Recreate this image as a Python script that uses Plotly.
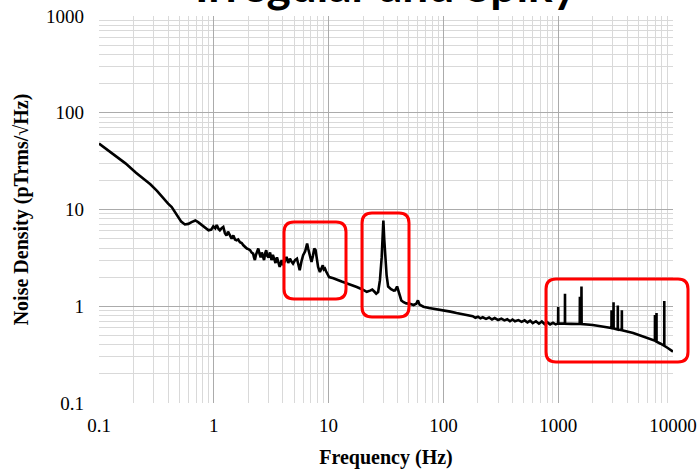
import plotly.graph_objects as go

freq_hz = [0.1, 0.13, 0.17, 0.21, 0.25, 0.28, 0.32, 0.36, 0.4, 0.43, 0.46, 0.49, 0.52, 0.56, 0.6, 0.64, 0.69, 0.73, 0.78, 0.84,
           0.9, 0.95, 0.99, 1.03, 1.06, 1.1, 1.13, 1.17, 1.21, 1.25, 1.29, 1.33, 1.38, 1.43, 1.48, 1.53, 1.58, 1.63, 1.69, 1.75,
           1.81, 1.87, 1.94, 2.0, 2.07, 2.13, 2.2, 2.24, 2.28, 2.33, 2.38, 2.44, 2.5, 2.56, 2.62, 2.68, 2.74, 2.8, 2.86, 2.93,
           3.0, 3.09, 3.18, 3.27, 3.36, 3.45, 3.55, 3.65, 3.75, 3.9, 4.0, 4.15, 4.3, 4.45, 4.6, 4.75, 4.9, 5.1, 5.3, 5.45,
           5.6, 5.8, 6.0, 6.25, 6.5, 6.65, 6.8, 6.95, 7.1, 7.3, 7.5, 7.7, 7.9, 8.1, 8.4, 8.65, 8.9, 9.1, 9.3, 9.5,
           9.7, 10.1, 11, 12, 13, 14.5, 16, 17.6, 19.5, 21.5, 23, 24, 25, 26, 27, 28, 29, 29.6, 30, 30.5,
           31, 32, 33, 35, 37, 38, 39.5, 41, 43, 45, 47.5, 51, 55, 58, 60, 62, 67, 75, 85, 95,
           103, 115, 130, 150, 170, 180, 190, 200, 210, 220, 235, 250, 265, 280, 300, 320, 340, 360, 380, 400,
           420, 450, 480, 510, 540, 570, 600, 640, 680, 720, 760, 800, 850, 900, 950, 990, 998, 1000, 1002, 1100,
           1144, 1146, 1148, 1300, 1540, 1545, 1550, 1590, 1595, 1600, 2000, 2600, 2910, 2915, 2920, 3030, 3035, 3040, 3300, 3305,
           3310, 3580, 3585, 3590, 4500, 5200, 6000, 6960, 6965, 6970, 7180, 7185, 7190, 7800, 8390, 8395, 8400, 9000, 10000]

noise_density = [48, 38, 30, 24, 20.5, 18.2, 15.6, 13.2, 11.5, 10.6, 9.4, 8.2, 7.5, 7.0, 7.1, 7.4, 7.7, 7.4, 7.0, 6.5,
                 6.1, 6.2, 6.7, 6.4, 6.9, 6.3, 6.1, 6.4, 6.6, 5.7, 5.4, 5.9, 5.3, 5.0, 5.4, 4.9, 4.8, 4.9, 4.6, 4.5,
                 4.27, 4.1, 3.95, 3.9, 3.8, 3.6, 3.5, 3.2, 3.0, 3.4, 3.7, 3.95, 3.5, 3.2, 3.6, 3.3, 3.0, 3.5, 3.8, 3.3,
                 3.2, 3.6, 3.0, 3.4, 3.1, 2.8, 3.2, 2.9, 2.55, 3.0, 2.65, 2.9, 3.23, 2.8, 3.1, 2.9, 2.76, 3.0, 3.1, 2.7,
                 2.36, 2.9, 3.37, 3.7, 4.45, 3.9, 3.5, 3.1, 2.87, 3.3, 3.95, 3.8, 3.1, 2.55, 2.26, 2.5, 2.65, 2.4, 2.45, 2.3,
                 2.17, 2.0, 1.95, 1.86, 1.8, 1.72, 1.66, 1.58, 1.5, 1.41, 1.45, 1.49, 1.42, 1.35, 1.4, 1.86, 3.2, 6.0, 7.7, 5.0,
                 3.5, 2.1, 1.6, 1.5, 1.45, 1.46, 1.6, 1.38, 1.15, 1.1, 1.07, 1.06, 1.03, 1.06, 1.15, 1.04, 0.99, 0.96, 0.94, 0.92,
                 0.91, 0.88, 0.85, 0.82, 0.8, 0.79, 0.76, 0.78, 0.75, 0.77, 0.74, 0.765, 0.73, 0.755, 0.72, 0.745, 0.715, 0.735, 0.70, 0.73,
                 0.70, 0.72, 0.69, 0.715, 0.68, 0.71, 0.67, 0.70, 0.66, 0.695, 0.655, 0.685, 0.65, 0.675, 0.65, 0.665, 0.665, 0.98, 0.665, 0.662,
                 0.66, 1.35, 0.66, 0.658, 0.655, 1.25, 0.655, 0.655, 1.6, 0.655, 0.64, 0.61, 0.595, 0.91, 0.595, 0.59, 1.1, 0.59, 0.575, 1.02,
                 0.575, 0.565, 0.91, 0.565, 0.53, 0.50, 0.47, 0.44, 0.81, 0.44, 0.43, 0.85, 0.43, 0.41, 0.39, 1.13, 0.39, 0.37, 0.34]

x_tick_vals = [0.1, 1, 10, 100, 1000, 10000]
x_tick_text = ["0.1", "1", "10", "100", "1000", "10000"]
y_tick_vals = [0.1, 1, 10, 100, 1000]
y_tick_text = ["0.1", "1", "10", "100", "1000"]

# highlight boxes in pixel coordinates of the 700x470 canvas (left, top, right, bottom)
boxes_px = [(284, 222, 346, 299), (362, 213, 409, 317), (546, 279, 688, 362)]

W, H = 700, 470
L, R, T, B = 99, 27, 16, 67
PW, PH = W - L - R, H - T - B


def rounded_path(x0, y0, x1, y1, r=10):
    def px(x):
        return (x - L) / PW

    def py(y):
        return (H - B - y) / PH

    pts = [
        f"M {px(x0 + r)} {py(y0)}",
        f"L {px(x1 - r)} {py(y0)}",
        f"Q {px(x1)} {py(y0)} {px(x1)} {py(y0 + r)}",
        f"L {px(x1)} {py(y1 - r)}",
        f"Q {px(x1)} {py(y1)} {px(x1 - r)} {py(y1)}",
        f"L {px(x0 + r)} {py(y1)}",
        f"Q {px(x0)} {py(y1)} {px(x0)} {py(y1 - r)}",
        f"L {px(x0)} {py(y0 + r)}",
        f"Q {px(x0)} {py(y0)} {px(x0 + r)} {py(y0)}",
        "Z",
    ]
    return " ".join(pts)


fig = go.Figure()
fig.add_trace(go.Scatter(x=freq_hz, y=noise_density, mode="lines",
                         line=dict(color="black", width=2.6), showlegend=False, hoverinfo="skip"))

for (x0, y0, x1, y1) in boxes_px:
    fig.add_shape(type="path", path=rounded_path(x0, y0, x1, y1), xref="paper", yref="paper",
                  line=dict(color="#ff0000", width=3), fillcolor="rgba(0,0,0,0)", layer="above")

axis_font = dict(family="Liberation Serif, Times New Roman, serif", size=19, color="black")
title_font = dict(family="Liberation Serif, Times New Roman, serif", size=20, color="black")

fig.update_xaxes(type="log", range=[-1, 4], tickvals=x_tick_vals, ticktext=x_tick_text,
                 showgrid=True, gridcolor="#ababab", gridwidth=1,
                 minor=dict(showgrid=True, gridcolor="#d9d9d9", gridwidth=1, dtick="D1"),
                 zeroline=False, showline=False, ticks="", tickfont=axis_font, ticklabelstandoff=9,
                 title=dict(text="<b>Frequency (Hz)</b>", font=title_font, standoff=14))
fig.update_yaxes(type="log", range=[-1, 3], tickvals=y_tick_vals, ticktext=y_tick_text,
                 showgrid=True, gridcolor="#ababab", gridwidth=1,
                 minor=dict(showgrid=True, gridcolor="#d9d9d9", gridwidth=1, dtick="D1"),
                 zeroline=False, showline=False, ticks="", tickfont=axis_font, ticklabelstandoff=14,
                 title=dict(text="<b>Noise Density (pTrms/√Hz)</b>", font=title_font, standoff=12))

fig.add_annotation(text="<b>Irregular and Spiky</b>", xref="paper", yref="paper", x=0.5, y=1,
                   xanchor="center", yanchor="bottom", yshift=2, showarrow=False,
                   font=dict(family="Lato, Open Sans, sans-serif", size=46, color="black"))

fig.update_layout(width=W, height=H, margin=dict(l=L, r=R, t=T, b=B, autoexpand=False),
                  paper_bgcolor="white", plot_bgcolor="white")

fig.write_html("out.html", config={"displayModeBar": False},
               post_script="document.body.style.margin='0';document.body.style.overflow='hidden';")
